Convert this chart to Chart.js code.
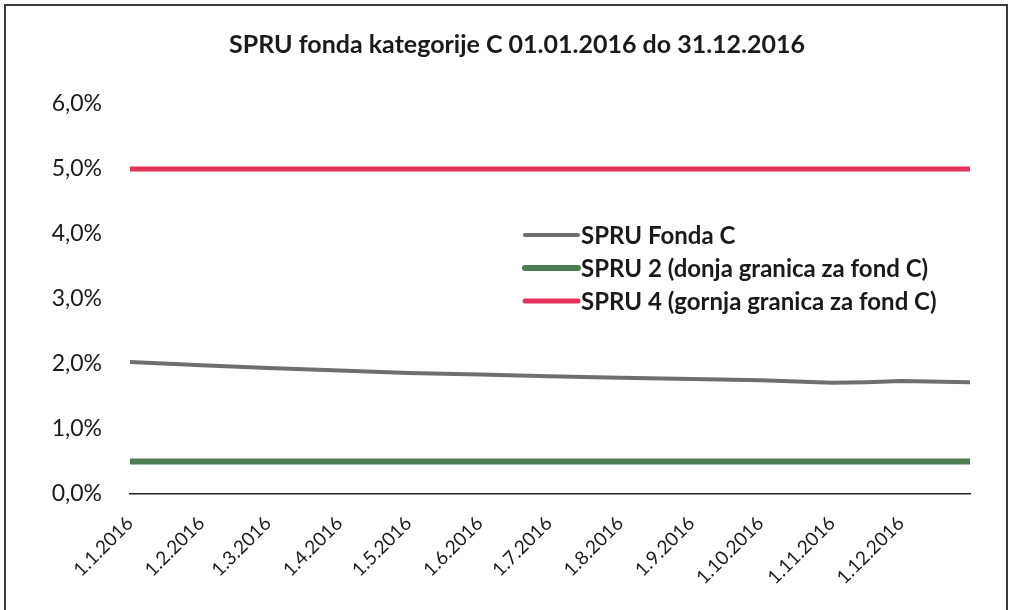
<!DOCTYPE html>
<html>
<head>
<meta charset="utf-8">
<script src="https://cdn.jsdelivr.net/npm/chart.js@4"></script>
<style>
  body { margin: 0; background: #fff; overflow: hidden; }
  #frame { position: absolute; left: 4px; top: 4px; width: 1000px; height: 700px; border: 2px solid #3a3a3a; }
  #wrap { position: absolute; left: 0; top: 0; width: 1012px; height: 610px; }
</style>
</head>
<body>
<div id="frame"></div>
<div id="wrap"><canvas id="spru"></canvas></div>
<script>
// x positions are day of year 2016 (0 = 1.1.2016)
const monthDays = [0, 31, 60, 91, 121, 152, 182, 213, 244, 274, 305, 335]
const monthLabels = ['1.1.2016', '1.2.2016', '1.3.2016', '1.4.2016', '1.5.2016', '1.6.2016',
  '1.7.2016', '1.8.2016', '1.9.2016', '1.10.2016', '1.11.2016', '1.12.2016']

const fondDays = [0, 31, 60, 91, 121, 152, 182, 213, 244, 274, 305, 320, 335, 365]
const fondC = [2.03, 1.98, 1.94, 1.90, 1.86, 1.84, 1.81, 1.79, 1.77, 1.75, 1.71, 1.72, 1.74, 1.72]

const limitDays = [0, 365]
const spru2 = [0.5, 0.5]
const spru4 = [5.0, 5.0]

const seriesNames = ['SPRU Fonda C', 'SPRU 2 (donja granica za fond C)', 'SPRU 4 (gornja granica za fond C)']

const FONT = 'Lato, Calibri, Carlito, sans-serif'

function toPoints(xs, ys) {
  return xs.map((x, i) => ({ x: x, y: ys[i] }))
}

// legend drawn inside the plot area, like the excel one
const innerLegend = {
  id: 'innerLegend',
  afterDraw(chart) {
    const ctx = chart.ctx
    const area = chart.chartArea
    const x0 = area.left + 395
    let y = area.top + 131
    ctx.save()
    chart.data.datasets.forEach(ds => {
      ctx.strokeStyle = ds.borderColor
      ctx.lineWidth = ds.borderWidth
      ctx.lineCap = 'round'
      ctx.beginPath()
      ctx.moveTo(x0, y)
      ctx.lineTo(x0 + 53, y)
      ctx.stroke()
      ctx.fillStyle = '#1a1a1a'
      ctx.font = 'bold 24px ' + FONT
      ctx.textBaseline = 'middle'
      ctx.fillText(ds.label, x0 + 56, y + 1)
      y += 33
    })
    ctx.restore()
  }
}

new Chart(document.getElementById('spru'), {
  type: 'line',
  data: {
    datasets: [{
      label: seriesNames[0],
      data: toPoints(fondDays, fondC),
      borderColor: '#6f6f6f',
      borderWidth: 4,
      pointRadius: 0
    }, {
      label: seriesNames[1],
      data: toPoints(limitDays, spru2),
      borderColor: '#4e7d54',
      borderWidth: 6,
      pointRadius: 0
    }, {
      label: seriesNames[2],
      data: toPoints(limitDays, spru4),
      borderColor: '#e2315b',
      borderWidth: 5,
      pointRadius: 0
    }]
  },
  options: {
    responsive: true,
    maintainAspectRatio: false,
    animation: false,
    layout: { padding: { left: 22, right: 0, top: 0, bottom: 0 } },
    plugins: {
      legend: { display: false },
      tooltip: { enabled: false },
      title: {
        display: true,
        text: 'SPRU fonda kategorije C 01.01.2016 do 31.12.2016',
        color: '#1a1a1a',
        font: { family: FONT, size: 25, weight: 'bold' },
        padding: { top: 30, bottom: 44 }
      }
    },
    scales: {
      x: {
        type: 'linear',
        min: 0,
        max: 365,
        afterBuildTicks: (scale) => {
          scale.ticks = monthDays.map(d => ({ value: d }))
        },
        afterFit: (scale) => { scale.height = 116 },
        grid: { display: false },
        border: { display: true, color: '#222', width: 1.5 },
        ticks: {
          autoSkip: false,
          maxRotation: 45,
          minRotation: 45,
          color: '#1a1a1a',
          font: { family: FONT, size: 19 },
          padding: 10,
          callback: (val) => monthLabels[monthDays.indexOf(val)]
        }
      },
      y: {
        min: 0,
        max: 6,
        afterFit: (scale) => { scale.width = 108 },
        grid: { display: false },
        border: { display: false },
        ticks: {
          stepSize: 1,
          color: '#1a1a1a',
          padding: 20,
          font: { family: FONT, size: 23 },
          callback: (val) => val.toFixed(1).replace('.', ',') + '%'
        }
      },
      // empty axis that only keeps the right margin
      yRight: {
        position: 'right',
        min: 0,
        max: 6,
        afterFit: (scale) => { scale.width = 42 },
        grid: { display: false },
        border: { display: false },
        ticks: { display: false }
      }
    }
  },
  plugins: [innerLegend]
})
</script>
</body>
</html>
